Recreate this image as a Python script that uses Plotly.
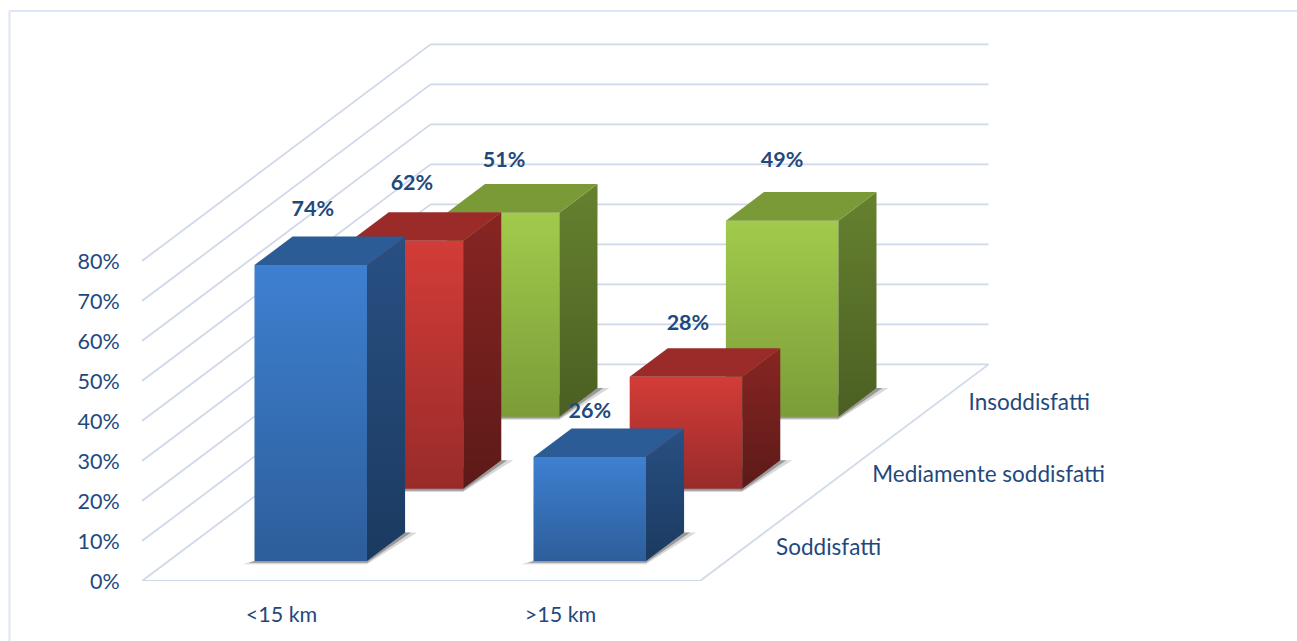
import plotly.graph_objects as go

# ---- data ----
distance_labels = ["<15 km", ">15 km"]
satisfaction_labels = ["Soddisfatti", "Mediamente soddisfatti", "Insoddisfatti"]
soddisfatti = [74, 26]
mediamente = [62, 28]
insoddisfatti = [51, 49]
percent_ticks = [0, 10, 20, 30, 40, 50, 60, 70, 80]

# ---- style / geometry (oblique projection of the depth axis) ----
W, H = 1297, 641
ML, MB = 142, 60
PX_X = 279.0          # pixels per distance category
PX_Y = 4.0            # pixels per percentage point
DX = 96.2 / PX_X      # x shift per satisfaction category
DY = 72.2 / PX_Y      # y shift per satisfaction category
BAR_W = 112.5 / PX_X
BAR_GAP = 0.308
BAR_D0, BAR_D1 = 0.276, 0.672
TEXT = "#1F497D"
GRID = "#CFD9E8"
FONT = "Lato"
styles = [
    dict(front=("#3E80D1", "#2D5E9B"), top="#2B5C96", side=("#285083", "#1B3A60")),
    dict(front=("#D33C38", "#982B29"), top="#9A2B29", side=("#882523", "#5C1A18")),
    dict(front=("#A1CB4C", "#7B9C38"), top="#7A9A38", side=("#66812F", "#4A5F22")),
]
# pixel nudges of the value labels relative to the bar top, as seen in the reference
label_nudge = [[(2, -54), (0, -44)], [(5, -56), (2, -52)], [(1, -51), (0, -59)]]


def proj(x, v, d):
    return x + d * DX, v + d * DY


fig = go.Figure()


def line(xs, ys):
    fig.add_trace(go.Scatter(x=xs, y=ys, mode="lines", line=dict(color=GRID, width=1.8),
                             hoverinfo="skip", showlegend=False))


def poly(pts, colors):
    xs = [p[0] for p in pts] + [pts[0][0]]
    ys = [p[1] for p in pts] + [pts[0][1]]
    kw = dict(fillcolor=colors) if isinstance(colors, str) else dict(
        fillgradient=dict(type="vertical", colorscale=[[0, colors[1]], [1, colors[0]]]))
    fig.add_trace(go.Scatter(x=xs, y=ys, mode="lines", fill="toself", line=dict(width=0),
                             hoverinfo="skip", showlegend=False, **kw))


n_x, n_d = len(distance_labels), len(satisfaction_labels)

# walls and floor
for t in percent_ticks:
    bx, by = proj(0, t, n_d)
    ex, ey = proj(n_x, t, n_d)
    line([0, bx, ex], [t, by, ey])
fx, fy = proj(n_x, 0, n_d)
line([0, n_x, fx], [0, 0, fy])

# bars, back to front
series = [soddisfatti, mediamente, insoddisfatti]
for k in reversed(range(n_d)):
    st = styles[k]
    for i in range(n_x):
        v = series[k][i]
        x0, x1 = i + BAR_GAP, i + BAR_GAP + BAR_W
        d0, d1 = k + BAR_D0, k + BAR_D1
        # soft floor shadow
        sx = 12 / PX_X
        poly([proj(x0 - sx, -0.8, d0), proj(x1, -0.8, d0),
              proj(x1 + sx, 0, d1), proj(x1, 0, d1), proj(x0, 0, d0)], "rgba(130,130,130,0.30)")
        sx2 = 6 / PX_X
        poly([proj(x0 - sx2, -0.45, d0), proj(x1, -0.45, d0),
              proj(x1 + sx2, 0, d1), proj(x1, 0, d1), proj(x0, 0, d0)], "rgba(90,90,90,0.5)")
        # faces
        poly([proj(x0, 0, d0), proj(x1, 0, d0), proj(x1, v, d0), proj(x0, v, d0)], st["front"])
        poly([proj(x1, 0, d0), proj(x1, 0, d1), proj(x1, v, d1), proj(x1, v, d0)], st["side"])
        poly([proj(x0, v, d0), proj(x1, v, d0), proj(x1, v, d1), proj(x0, v, d1)], st["top"])
        lx, ly = proj((x0 + x1) / 2, v, d0)
        nx, ny = label_nudge[k][i]
        fig.add_trace(go.Scatter(x=[lx + nx / PX_X], y=[ly - ny / PX_Y], mode="text",
                                 text=[f"{v}%"], textposition="middle center",
                                 textfont=dict(family=FONT, size=21.5, color=TEXT, weight="bold"),
                                 hoverinfo="skip", showlegend=False))

# depth axis labels
dx_, dy_ = [], []
for k in range(n_d):
    ex, ey = proj(n_x, 0, k + 0.5)
    dx_.append(ex + 28 / PX_X)
    dy_.append(ey - 4 / PX_Y)
fig.add_trace(go.Scatter(x=dx_, y=dy_, mode="text", text=satisfaction_labels,
                         textposition="middle right",
                         textfont=dict(family=FONT, size=22.5, color=TEXT),
                         hoverinfo="skip", showlegend=False))

plot_w, plot_h = W - ML, H - MB
frame_x = (9.5 - ML) / plot_w
frame_y = (plot_h - 11) / plot_h
frame = dict(type="line", xref="paper", yref="paper", line=dict(color="#DCE6F4", width=2))

fig.update_layout(
    width=W, height=H, autosize=False,
    margin=dict(l=ML, r=0, t=0, b=MB, pad=0),
    paper_bgcolor="white", plot_bgcolor="rgba(0,0,0,0)", showlegend=False,
    font=dict(family=FONT, size=21.5, color=TEXT),
    xaxis=dict(range=[0, plot_w / PX_X], tickmode="array",
               tickvals=[i + 0.5 for i in range(n_x)], ticktext=distance_labels,
               showgrid=False, zeroline=False, showline=False,
               ticks="outside", ticklen=14, tickcolor="rgba(0,0,0,0)"),
    yaxis=dict(range=[0, plot_h / PX_Y], tickmode="array", tickvals=percent_ticks,
               ticktext=[f"{t}%" for t in percent_ticks],
               showgrid=False, zeroline=False, showline=False,
               ticks="outside", ticklen=17, tickcolor="rgba(0,0,0,0)"),
    shapes=[
        {**frame, "x0": frame_x, "x1": 1.0, "y0": frame_y, "y1": frame_y},
        {**frame, "x0": frame_x, "x1": frame_x, "y0": -0.2, "y1": frame_y},
    ],
)
fig.write_html("out.html", config=dict(displayModeBar=False),
               post_script="document.body.style.margin='0';document.body.style.overflow='hidden';")
